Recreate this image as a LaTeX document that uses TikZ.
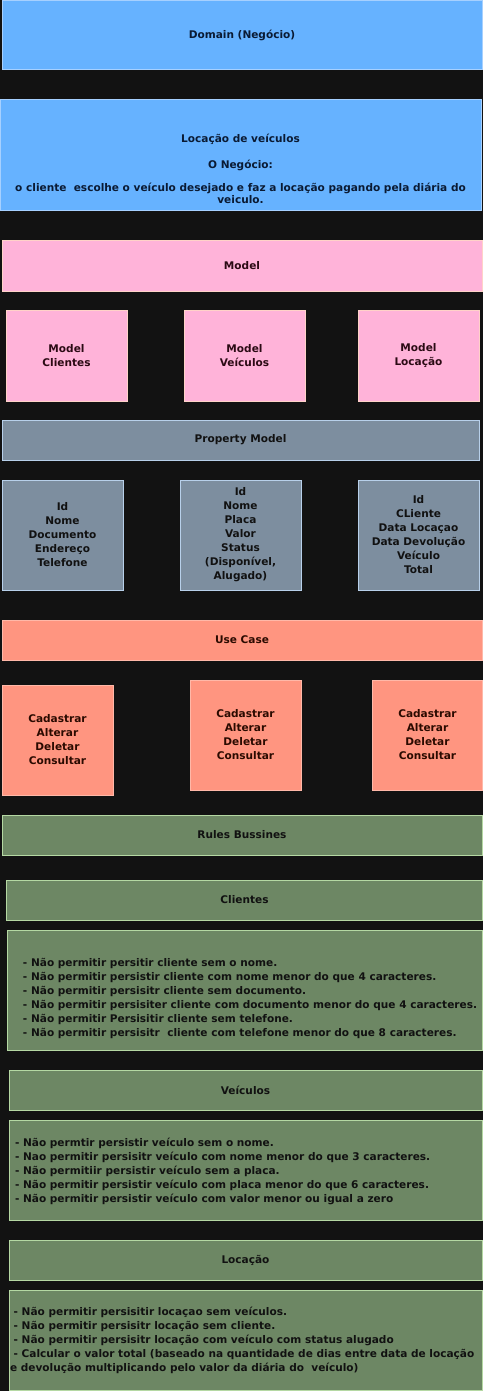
\documentclass[tikz,border=0pt]{standalone}
\usepackage{fontspec}
\setmainfont{DejaVu Sans}
\definecolor{bg}{HTML}{121212}
\definecolor{bluefill}{HTML}{66B2FF}
\definecolor{blueline}{HTML}{A6D0FF}
\definecolor{bluetext}{HTML}{0A1A33}
\definecolor{pinkfill}{HTML}{FFB3D9}
\definecolor{pinkline}{HTML}{FFD2C8}
\definecolor{pinktext}{HTML}{2B0A14}
\definecolor{slatefill}{HTML}{7D8E9F}
\definecolor{slateline}{HTML}{B8D0EA}
\definecolor{slatetext}{HTML}{111111}
\definecolor{salfill}{HTML}{FF9580}
\definecolor{salline}{HTML}{FFB8A8}
\definecolor{saltext}{HTML}{2A0A00}
\definecolor{grnfill}{HTML}{6D8764}
\definecolor{grnline}{HTML}{B5D8A3}
\definecolor{grntext}{HTML}{111111}
\tikzset{
  txt/.style={font=\bfseries\fontsize{10.55}{14}\selectfont, inner sep=0pt, outer sep=0pt},
  box/.style={txt, draw, line width=1pt, align=center},
  bluebox/.style={box, fill=bluefill, draw=blueline, text=bluetext},
  pinkbox/.style={box, fill=pinkfill, draw=pinkline, text=pinktext},
  slatebox/.style={box, fill=slatefill, draw=slateline, text=slatetext},
  salbox/.style={box, fill=salfill, draw=salline, text=saltext},
  grnbox/.style={box, fill=grnfill, draw=grnline, text=grntext},
  ruletext/.style={txt, align=left, anchor=west, text=grntext},
}
\begin{document}
\begin{tikzpicture}[x=1pt,y=-1pt]
\useasboundingbox (0,0) rectangle (483,1391);
\fill[bg] (0,0) rectangle (483,1391);

% Domain
\node[bluebox, minimum width=480, minimum height=69] (dom) at (242,35.5) {Domain (Negócio)};
\node[bluebox, minimum width=481, minimum height=110] (biz) at (240.5,155) {};
\node[txt, align=center, text=bluetext, font=\bfseries\fontsize{10.55}{11.5}\selectfont] (bizt) at (240.5,169)
  {Locação de veículos\\[14pt]O Negócio:\\[12pt]o cliente~ escolhe o veículo desejado e faz a locação pagando pela diária do\\veiculo.};

% Model
\node[pinkbox, minimum width=480, minimum height=51] (model) at (242,265.5) {Model};
\node[pinkbox, minimum width=121, minimum height=91] (mc) at (66.5,355.5) {Model\\Clientes};
\node[pinkbox, minimum width=121, minimum height=91] (mv) at (244.5,355.5) {Model\\Veículos};
\node[pinkbox, minimum width=121, minimum height=91] (ml) at (418.5,355.5) {Model\\Locação\vphantom{p}};

% Property model
\node[slatebox, minimum width=477, minimum height=40] (pm) at (240.5,440) {Property Model};
\node[slatebox, minimum width=121, minimum height=110] (pc) at (62.5,535) {Id\\Nome\\Documento\\Endereço\\Telefone};
\node[slatebox, minimum width=121, minimum height=110] (pv) at (240.5,535) {Id\\Nome\\Placa\\Valor\\Status\\(Disponível,\\Alugado)};
\node[slatebox, minimum width=121, minimum height=110] (pl) at (418.5,535) {Id\\CLiente\\Data Locaçao\\Data Devolução\\Veículo\\Total};

% Use case
\node[salbox, minimum width=480, minimum height=40] (uc) at (242,640) {Use Case};
\node[salbox, minimum width=111, minimum height=110] (uc1) at (57.5,740) {Cadastrar\\Alterar\\Deletar\\Consultar};
\node[salbox, minimum width=111, minimum height=110] (uc2) at (245.5,735) {Cadastrar\\Alterar\\Deletar\\Consultar};
\node[salbox, minimum width=110, minimum height=110] (uc3) at (427.5,735) {Cadastrar\\Alterar\\Deletar\\Consultar};

% Rules
\node[grnbox, minimum width=480, minimum height=40] (rb) at (242,835) {Rules Bussines};

\node[grnbox, minimum width=476, minimum height=40] (cl) at (244.5,900) {Clientes};
\node[grnbox, minimum width=475, minimum height=120] (clr) at (244.5,990) {};
\node[ruletext] (clrt) at (23,998)
  {- Não permitir persitir cliente sem o nome.\\
   - Não permitir persistir cliente com nome menor do que 4 caracteres.\\
   - Não permitir persisitr cliente sem documento.\\
   - Não permitir persisiter cliente com documento menor do que 4 caracteres.\\
   - Não permitir Persisitir cliente sem telefone.\\
   - Não permitir persisitr~ cliente com telefone menor do que 8 caracteres.};

\node[grnbox, minimum width=473, minimum height=40] (ve) at (245.5,1090) {Veículos};
\node[grnbox, minimum width=473, minimum height=100] (ver) at (245.5,1170) {};
\node[ruletext] (vert) at (15,1171)
  {- Não permtir persistir veículo sem o nome.\\
   - Nao permitir persisitr veículo com nome menor do que 3 caracteres.\\
   - Não permitiir persistir veículo sem a placa.\\
   - Não permitir persistir veículo com placa menor do que 6 caracteres.\\
   - Não permitir persistir veículo com valor menor ou igual a zero};

\node[grnbox, minimum width=473, minimum height=40] (lo) at (245.5,1260) {Locação};
\node[grnbox, minimum width=473, minimum height=100] (lor) at (245.5,1340) {};
\node[ruletext] (lort) at (10,1340)
  {\ - Não permitir persisitir locaçao sem veículos.\\
   \ - Não permitir persisitr locação sem cliente.\\
   \ - Não permitir persisitr locação com veículo com status alugado\\
   \ - Calcular o valor total (baseado na quantidade de dias entre data de locação\\
   e devolução multiplicando pelo valor da diária do~ veículo)};
\end{tikzpicture}
\end{document}
